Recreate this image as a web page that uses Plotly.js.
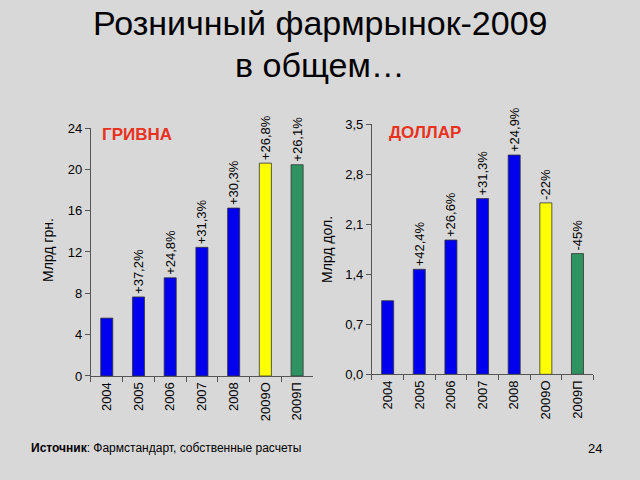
<!DOCTYPE html>
<html>
<head>
<meta charset="utf-8">
<script src="https://cdn.plot.ly/plotly-3.0.1.min.js"></script>
<style>html,body{margin:0;padding:0;background:#d8d8d8;}#chart{width:640px;height:480px;}</style>
</head>
<body>
<div id="chart"></div>
<script>
var categories = ["2004", "2005", "2006", "2007", "2008", "2009О", "2009П"];
var uahValues = [5.6, 7.65, 9.5, 12.45, 16.25, 20.6, 20.45];
var uahLabels = ["", "+37,2%", "+24,8%", "+31,3%", "+30,3%", "+26,8%", "+26,1%"];
var usdValues = [1.03, 1.47, 1.88, 2.46, 3.07, 2.40, 1.69];
var usdLabels = ["", "+42,4%", "+26,6%", "+31,3%", "+24,9%", "-22%", "-45%"];
var barColors = ["#0000ee", "#0000ee", "#0000ee", "#0000ee", "#0000ee", "#ffff00", "#2e9360"];
var uahTicks = [0, 4, 8, 12, 16, 20, 24];
var usdTicks = [0, 0.7, 1.4, 2.1, 2.8, 3.5];

var font = "Liberation Sans, Arial, sans-serif";

function barTrace(vals, labels, xa, ya) {
  return {
    type: "bar", x: categories, y: vals, xaxis: xa, yaxis: ya,
    marker: {color: barColors, line: {color: "#333", width: 0.8}},
    text: labels, textposition: "outside", textangle: -90,
    constraintext: "none", cliponaxis: false,
    textfont: {family: font, size: 13, color: "#000"},
    hoverinfo: "none"
  };
}

var axX = {
  type: "category", showgrid: false, showline: true, linecolor: "#555", linewidth: 1,
  ticks: "outside", tickson: "boundaries", ticklen: 5, tickcolor: "#555",
  tickangle: -90, tickfont: {family: font, size: 13, color: "#000"}, fixedrange: true
};
function axY(range, ticks, fmt) {
  return {
    range: range, tickvals: ticks, tickformat: fmt, showgrid: false, zeroline: false,
    showline: true, linecolor: "#555", linewidth: 1, ticks: "outside", ticklen: 5,
    tickcolor: "#555", tickfont: {family: font, size: 13, color: "#000"}, fixedrange: true
  };
}

var data = [barTrace(uahValues, uahLabels, "x", "y"), barTrace(usdValues, usdLabels, "x2", "y2")];

var layout = {
  width: 640, height: 480,
  margin: {l: 0, r: 0, t: 0, b: 0},
  paper_bgcolor: "#d8d8d8", plot_bgcolor: "rgba(0,0,0,0)",
  separators: ", ",
  showlegend: false, bargap: 0.62,
  xaxis: Object.assign({}, axX, {domain: [0.142, 0.489], anchor: "y"}),
  yaxis: Object.assign(axY([0, 24], uahTicks, "d"), {domain: [0.2167, 0.7333], anchor: "x"}),
  xaxis2: Object.assign({}, axX, {domain: [0.581, 0.927], anchor: "y2"}),
  yaxis2: Object.assign(axY([0, 3.5], usdTicks, ".1f"), {domain: [0.2202, 0.741], anchor: "x2"}),
  annotations: [
    {text: "Розничный фармрынок-2009", xref: "paper", yref: "paper", x: 0.5, y: 1 - 23/480, showarrow: false,
     font: {family: font, size: 34, color: "#000"}, xanchor: "center", yanchor: "middle"},
    {text: "в общем…", xref: "paper", yref: "paper", x: 0.5, y: 1 - 65/480, showarrow: false,
     font: {family: font, size: 34, color: "#000"}, xanchor: "center", yanchor: "middle"},
    {text: "<b>ГРИВНА</b>", xref: "paper", yref: "paper", x: 100/640, y: 1 - 134/480, showarrow: false,
     font: {family: font, size: 17, color: "#e8321e"}, xanchor: "left", yanchor: "middle"},
    {text: "<b>ДОЛЛАР</b>", xref: "paper", yref: "paper", x: 387/640, y: 1 - 132/480, showarrow: false,
     font: {family: font, size: 17, color: "#e8321e"}, xanchor: "left", yanchor: "middle"},
    {text: "Млрд грн.", xref: "paper", yref: "paper", x: 48/640, y: 1 - 250/480, showarrow: false, textangle: -90,
     font: {family: font, size: 14, color: "#000"}, xanchor: "center", yanchor: "middle"},
    {text: "Млрд дол.", xref: "paper", yref: "paper", x: 327/640, y: 1 - 250/480, showarrow: false, textangle: -90,
     font: {family: font, size: 14, color: "#000"}, xanchor: "center", yanchor: "middle"},
    {text: "<b>Источник</b>: Фармстандарт, собственные расчеты", xref: "paper", yref: "paper", x: 29/640, y: 1 - 448/480,
     showarrow: false, font: {family: font, size: 12, color: "#000"}, xanchor: "left", yanchor: "middle"},
    {text: "24", xref: "paper", yref: "paper", x: 595/640, y: 1 - 448/480, showarrow: false,
     font: {family: font, size: 13, color: "#000"}, xanchor: "center", yanchor: "middle"}
  ]
};

Plotly.newPlot("chart", data, layout, {staticPlot: true, displayModeBar: false});
</script>
</body>
</html>
